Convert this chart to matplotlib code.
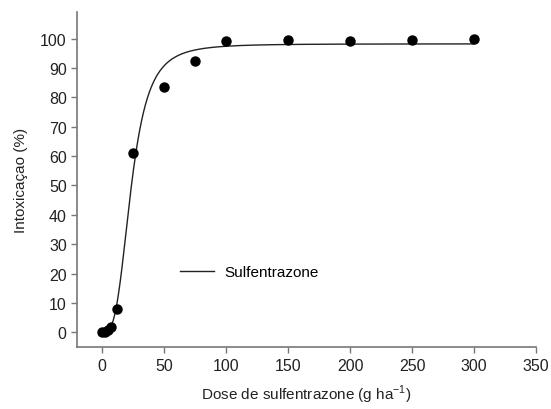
import numpy as np
import matplotlib
matplotlib.use("Agg")
import matplotlib.pyplot as plt

plt.rcParams['font.family'] = ['Liberation Sans', 'DejaVu Sans']
plt.rcParams['mathtext.fontset'] = 'custom'
plt.rcParams['mathtext.rm'] = 'Liberation Sans'

# Datos observados
doses = [0, 2.5, 5, 7.5, 12.5, 25, 50, 75, 100, 150, 200, 250, 300]
intox = [0, 0, 0.8, 1.8, 8, 61.2, 83.6, 92.2, 99.2, 99.6, 99.2, 99.4, 99.7]

# Modelo log-logístico ajustado: y = a / (1 + (x0/x)^b)
a_fit, x0_fit, b_fit = 98.2, 23.5, 3.3

x_curve = np.linspace(0.01, 300, 600)
y_curve = a_fit / (1 + (x0_fit / x_curve) ** b_fit)

fig = plt.figure(figsize=(5.51, 4.10), dpi=100)
ax = fig.add_axes([0.14, 0.151, 0.833, 0.817])

ax.plot(x_curve, y_curve, color='#222222', lw=1.0, label='Sulfentrazone')
ax.plot(doses, intox, 'o', color='black', ms=6.5, zorder=3)

ax.set_xlim(-20, 350)
ax.set_ylim(-5, 109)
ax.set_xticks(np.arange(0, 351, 50))
ax.set_yticks(np.arange(0, 101, 10))

for s in ['top', 'right']:
    ax.spines[s].set_visible(False)
for s in ['left', 'bottom']:
    ax.spines[s].set_color('#777777')
    ax.spines[s].set_linewidth(1.2)
ax.tick_params(direction='out', length=4, width=1, color='#777777',
               labelsize=11.5, labelcolor='#222222')

ax.set_xlabel('Dose de sulfentrazone (g ha$^{\\mathrm{-1}}$)', fontsize=11, color='#222222', labelpad=7)
ax.set_ylabel('Intoxicaçao (%)', fontsize=11, color='#222222', labelpad=9)

ax.legend(loc='center left', bbox_to_anchor=(0.225, 0.224), frameon=False,
          borderpad=0, borderaxespad=0, handlelength=2.2, handletextpad=0.7,
          fontsize=11)

fig.savefig('out.png', dpi=100)
